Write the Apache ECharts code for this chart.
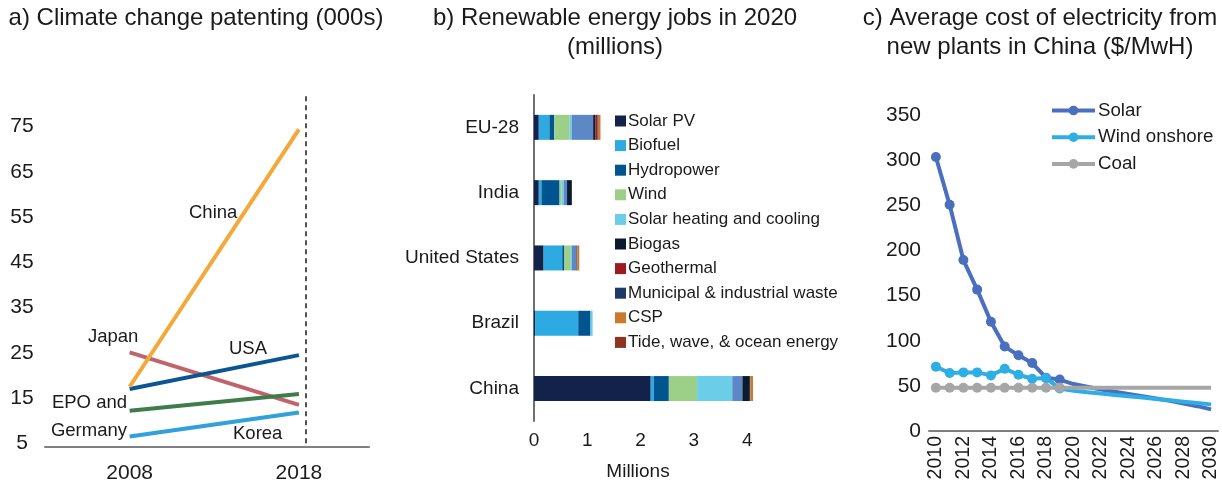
<!DOCTYPE html>
<html>
<head>
<meta charset="utf-8">
<script src="https://cdn.jsdelivr.net/npm/echarts@6/dist/echarts.min.js"></script>
<style>
html,body{margin:0;padding:0;background:#fff;}
#chart{width:1222px;height:484px;}
</style>
</head>
<body>
<div id="chart"></div>
<script>
// ---------- Panel a: climate change patenting (000s) ----------
const patentYears = [2008, 2018];
const patentChina = [17.5, 74.4];
const patentJapan = [25.1, 13.5];
const patentUSA = [17.0, 24.5];
const patentEPO = [12.2, 15.9];
const patentKorea = [6.5, 11.8];
const patentTickYears = [2008, 2018];
const patentMarkerYear = 2018.4;

// ---------- Panel b: renewable energy jobs 2020 (millions) ----------
const jobCountries = ['EU-28', 'India', 'United States', 'Brazil', 'China'];
const jobSolarPV    = [0.09, 0.09, 0.18, 0.02, 2.19];
const jobBiofuel    = [0.20, 0.05, 0.35, 0.81, 0.06];
const jobHydro      = [0.09, 0.34, 0.04, 0.23, 0.28];
const jobWind       = [0.29, 0.04, 0.12, 0.00, 0.53];
const jobSolarHeat  = [0.04, 0.04, 0.02, 0.04, 0.66];
const jobSolidBio   = [0.40, 0.06, 0.09, 0.00, 0.19];
const jobBiogas     = [0.04, 0.09, 0.01, 0.00, 0.14];
const jobGeothermal = [0.04, 0.00, 0.00, 0.00, 0.00];
const jobWaste      = [0.01, 0.00, 0.00, 0.00, 0.01];
const jobCSP        = [0.04, 0.00, 0.04, 0.00, 0.05];
const jobTide       = [0.005, 0.00, 0.00, 0.00, 0.00];

// ---------- Panel c: average cost of electricity, China ($/MWh) ----------
const costYears = ['2010','2011','2012','2013','2014','2015','2016','2017','2018','2019',
                   '2020','2021','2022','2023','2024','2025','2026','2027','2028','2029','2030'];
const costSolar = [303.5, 250.5, 189.3, 156.6, 121, 93.5, 83.9, 75.3, 59, 57,
                   52, 49, 46, 43.5, 41, 38.5, 36, 33.5, 30.5, 27.5, 24];
const costWind  = [71.3, 64.2, 64.9, 64.9, 61.6, 69, 62.3, 57.9, 58.6, 47,
                   44.5, 43, 41.5, 40, 38.5, 37, 35.5, 34, 32.5, 31, 29.5];
const costCoal  = [48, 48, 48, 48, 48, 48, 48, 48, 48, 48,
                   48, 48, 48, 48, 48, 48, 48, 48, 48, 48, 48];
const costMarkerCount = 10;

const FONT = '"Liberation Sans", Arial, sans-serif';
const TXT = '#1a1a1a';

const chart = echarts.init(document.getElementById('chart'), null, {renderer: 'canvas'});

function patentSeries(name, vals, color, extra) {
  return Object.assign({
    name: name, type: 'line', xAxisIndex: 0, yAxisIndex: 0,
    data: patentYears.map((y, i) => [y, vals[i]]),
    symbol: 'none', lineStyle: {color: color, width: 4}, itemStyle: {color: color},
    animation: false, silent: true
  }, extra || {});
}

const jobDefs = [
  ['Solar PV', jobSolarPV, '#13224a'],
  ['Biofuel', jobBiofuel, '#2eaae2'],
  ['Hydropower', jobHydro, '#005591'],
  ['Wind', jobWind, '#9ccf88'],
  ['Solar heating and cooling', jobSolarHeat, '#6ccde9'],
  ['Solid biomass', jobSolidBio, '#5d88c6'],
  ['Biogas', jobBiogas, '#0c1a30'],
  ['Geothermal', jobGeothermal, '#9c1b1f'],
  ['Municipal & industrial waste', jobWaste, '#1d3b63'],
  ['CSP', jobCSP, '#c97a2c'],
  ['Tide, wave, & ocean energy', jobTide, '#913321']
];
const jobSeries = jobDefs.map(d => ({
  name: d[0], type: 'bar', stack: 'jobs', xAxisIndex: 1, yAxisIndex: 1,
  data: d[1], barWidth: 25, itemStyle: {color: d[2]}, animation: false, silent: true
}));

function costData(vals) {
  return vals.map((v, i) => i < costMarkerCount ? v : {value: v, symbol: 'none'});
}
function costSeries(name, vals, color) {
  return {
    name: name, type: 'line', xAxisIndex: 2, yAxisIndex: 2,
    data: costData(vals), symbol: 'circle', symbolSize: 10, showAllSymbol: true,
    lineStyle: {color: color, width: 4}, itemStyle: {color: color},
    animation: false, silent: true
  };
}

const option = {
  backgroundColor: '#fff',
  textStyle: {fontFamily: FONT},
  grid: [
    {left: 45, top: 95, width: 324, height: 348.3},
    {left: 534, top: 94.7, width: 234.5, height: 326.5},
    {left: 929, top: 115, width: 289, height: 316}
  ],
  xAxis: [
    {gridIndex: 0, type: 'value', min: 2003, max: 2022.14, interval: 5, offset: 3,
     axisLine: {show: true, lineStyle: {color: '#808080', width: 2}},
     axisTick: {show: false}, splitLine: {show: false},
     axisLabel: {fontSize: 21, color: TXT, margin: 16, fontFamily: FONT,
       formatter: v => patentTickYears.indexOf(v) >= 0 ? String(v) : ''}},
    {gridIndex: 1, type: 'value', min: 0, max: 4.4, interval: 1,
     axisLine: {show: false}, axisTick: {show: false}, splitLine: {show: false},
     axisLabel: {fontSize: 19, color: TXT, margin: 10, fontFamily: FONT,
       formatter: v => v <= 4 ? String(v) : ''}},
    {gridIndex: 2, type: 'category', data: costYears, boundaryGap: true,
     axisLine: {show: true, lineStyle: {color: '#7f7f7f', width: 2}},
     axisTick: {show: false},
     axisLabel: {fontSize: 19.5, color: TXT, rotate: 90, interval: 1, margin: 5, fontFamily: FONT}}
  ],
  yAxis: [
    {gridIndex: 0, type: 'value', min: 5, max: 82, interval: 10,
     axisLine: {show: false}, axisTick: {show: false}, splitLine: {show: false},
     axisLabel: {fontSize: 21, color: TXT, align: 'center', margin: 23, fontFamily: FONT,
       showMaxLabel: false, formatter: v => v <= 75 ? String(v) : ''}},
    {gridIndex: 1, type: 'category', data: jobCountries, inverse: true,
     axisLine: {show: true, lineStyle: {color: '#404040', width: 1.5}},
     axisTick: {show: false},
     axisLabel: {fontSize: 19, color: TXT, margin: 15, fontFamily: FONT}},
    {gridIndex: 2, type: 'value', min: 0, max: 350, interval: 50,
     axisLine: {show: false}, axisTick: {show: false}, splitLine: {show: false},
     axisLabel: {fontSize: 21, color: TXT, margin: 8, fontFamily: FONT}}
  ],
  legend: [
    {data: jobDefs.map(d => d[0]).filter(n => n !== 'Solid biomass'),
     orient: 'vertical', left: 615, top: 112.5, padding: 0, itemWidth: 11, itemHeight: 11,
     itemGap: 7.6, icon: 'rect', selectedMode: false,
     textStyle: {fontSize: 17, color: TXT, fontFamily: FONT, padding: [0, 0, 0, -3]}},
    {data: ['Solar', 'Wind onshore', 'Coal'],
     orient: 'vertical', left: 1050, top: 101, padding: 0, itemWidth: 43, itemHeight: 12,
     itemGap: 7.7, selectedMode: false,
     lineStyle: {width: 4},
     textStyle: {fontSize: 18.7, color: TXT, fontFamily: FONT, padding: [0, 0, 0, -2]}}
  ],
  series: [
    patentSeries('Japan', patentJapan, '#c1636a'),
    patentSeries('EPO and Germany', patentEPO, '#3f7c4b'),
    patentSeries('Korea', patentKorea, '#31a0db'),
    patentSeries('USA', patentUSA, '#0b5592'),
    patentSeries('China', patentChina, '#f5a83a', {
      markLine: {silent: true, symbol: 'none', animation: false,
        label: {show: false},
        lineStyle: {color: '#1a1a1a', type: [5, 4], width: 1.5},
        data: [{xAxis: patentMarkerYear}]}
    }),
    ...jobSeries,
    costSeries('Solar', costSolar, '#4a6fbe'),
    costSeries('Wind onshore', costWind, '#2eaee4'),
    costSeries('Coal', costCoal, '#a6a6a6')
  ],
  graphic: [
    {type: 'text', x: 196, y: 18, style: {text: 'a) Climate change patenting (000s)', font: '24px ' + FONT, fill: TXT, textAlign: 'center', textVerticalAlign: 'middle'}},
    {type: 'text', x: 615, y: 18, style: {text: 'b) Renewable energy jobs in 2020', font: '24px ' + FONT, fill: TXT, textAlign: 'center', textVerticalAlign: 'middle'}},
    {type: 'text', x: 615, y: 47, style: {text: '(millions)', font: '24px ' + FONT, fill: TXT, textAlign: 'center', textVerticalAlign: 'middle'}},
    {type: 'text', x: 1040, y: 18, style: {text: 'c) Average cost of electricity from', font: '24px ' + FONT, fill: TXT, textAlign: 'center', textVerticalAlign: 'middle'}},
    {type: 'text', x: 1040, y: 47, style: {text: 'new plants in China ($/MwH)', font: '24px ' + FONT, fill: TXT, textAlign: 'center', textVerticalAlign: 'middle'}},
    {type: 'text', x: 189, y: 213, style: {text: 'China', font: '18.5px ' + FONT, fill: TXT, textAlign: 'left', textVerticalAlign: 'middle'}},
    {type: 'text', x: 88, y: 337, style: {text: 'Japan', font: '18.5px ' + FONT, fill: TXT, textAlign: 'left', textVerticalAlign: 'middle'}},
    {type: 'text', x: 229, y: 349, style: {text: 'USA', font: '18.5px ' + FONT, fill: TXT, textAlign: 'left', textVerticalAlign: 'middle'}},
    {type: 'text', x: 127, y: 403, style: {text: 'EPO and', font: '18.5px ' + FONT, fill: TXT, textAlign: 'right', textVerticalAlign: 'middle'}},
    {type: 'text', x: 127, y: 431, style: {text: 'Germany', font: '18.5px ' + FONT, fill: TXT, textAlign: 'right', textVerticalAlign: 'middle'}},
    {type: 'text', x: 233, y: 434, style: {text: 'Korea', font: '18.5px ' + FONT, fill: TXT, textAlign: 'left', textVerticalAlign: 'middle'}},
    {type: 'text', x: 638, y: 472, style: {text: 'Millions', font: '19px ' + FONT, fill: TXT, textAlign: 'center', textVerticalAlign: 'middle'}}
  ]
};
chart.setOption(option);
</script>
</body>
</html>
